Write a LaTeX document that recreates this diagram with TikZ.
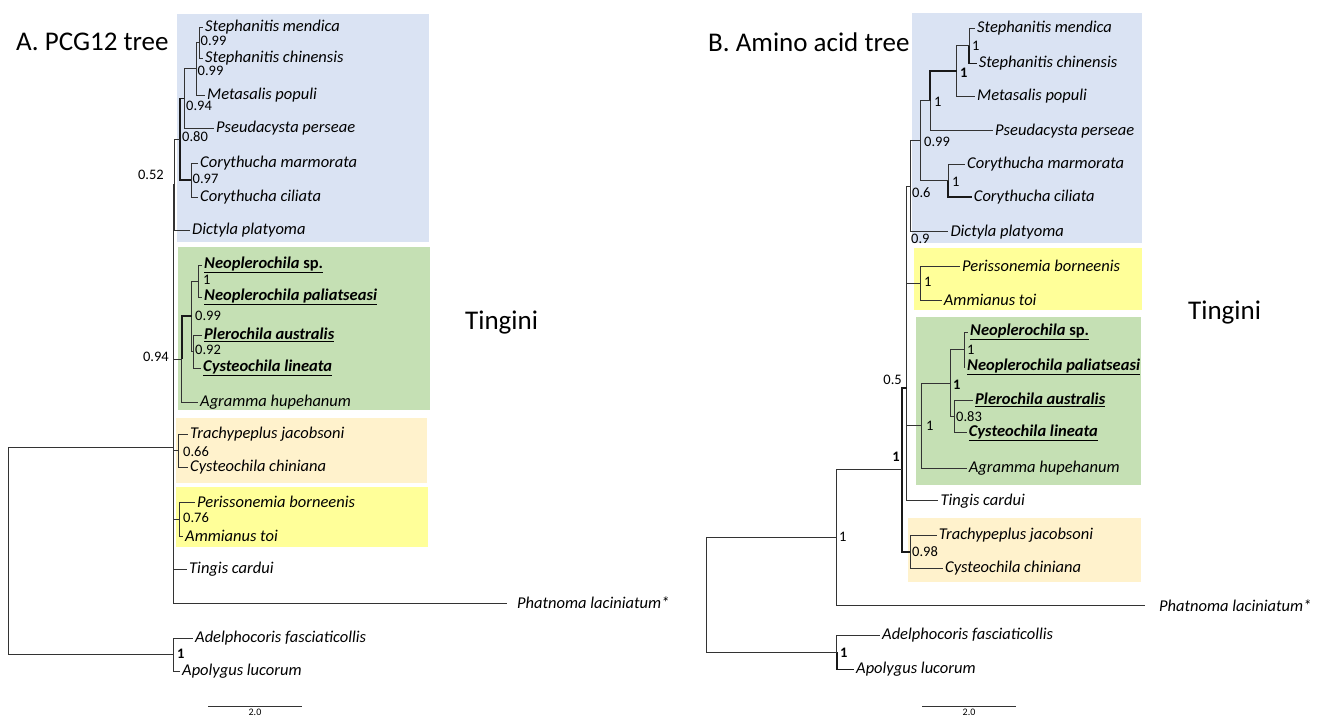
\documentclass[tikz,border=0pt]{standalone}
\usepackage{fontspec}
\setmainfont{Carlito}
\definecolor{cblue}{HTML}{DAE3F3}
\definecolor{cgreen}{HTML}{C5E0B4}
\definecolor{cpeach}{HTML}{FFF2CC}
\definecolor{cyellow}{HTML}{FFFF99}
\begin{document}
\begin{tikzpicture}[x=1pt,y=-1pt,
	br/.style={draw=black!80,line width=0.8pt},
	brb/.style={draw=black!90,line width=1.6pt},
	taxon/.style={anchor=west,inner sep=2pt,font=\fontsize{16.5}{18}\selectfont\itshape},
	taxb/.style={taxon,font=\fontsize{16.5}{18}\selectfont\bfseries\itshape},
	supp/.style={anchor=west,inner sep=1pt,font=\fontsize{14.5}{16}\selectfont},
	suppb/.style={supp,font=\fontsize{14.5}{16}\selectfont\bfseries},
	heading/.style={anchor=west,inner sep=0pt,font=\fontsize{27}{30}\selectfont}]
	\useasboundingbox (0,0) rectangle (1322,718);

	% clade boxes
	\fill[cblue] (177,14) rectangle (429,242);
	\fill[cgreen] (178,247) rectangle (430,410);
	\fill[cpeach] (176,418) rectangle (427,483);
	\fill[cyellow] (176,487) rectangle (428,547);
	\fill[cblue] (912,13) rectangle (1142,243);
	\fill[cyellow] (914,248) rectangle (1142,310);
	\fill[cgreen] (916,317) rectangle (1141,485);
	\fill[cpeach] (908,518) rectangle (1141,582);

	% A. PCG12 tree
	\node(ta) [heading] at (16,42) {A. PCG12 tree};
	\node(sm1) [taxon] at (203,27) {Stephanitis mendica};
	\node(sc1) [taxon] at (203,58) {Stephanitis chinensis};
	\node(mp1) [taxon] at (205,95) {Metasalis populi};
	\node(pp1) [taxon] at (214,128) {Pseudacysta perseae};
	\node(cm1) [taxon] at (198,163) {Corythucha marmorata};
	\node(cc1) [taxon] at (198,197) {Corythucha ciliata};
	\node(dp1) [taxon] at (190,230) {Dictyla platyoma};
	\node(nsp1) [taxb] at (202,265) {\underline{Neoplerochila \upshape sp.}};
	\node(npa1) [taxb] at (202,297) {\underline{Neoplerochila paliatseasi}};
	\node(pa1) [taxb] at (202,335) {\underline{Plerochila australis}};
	\node(cl1) [taxb] at (201,368) {\underline{Cysteochila lineata}};
	\node(ah1) [taxon] at (198,402) {Agramma hupehanum};
	\node(tj1) [taxon] at (188,434) {Trachypeplus jacobsoni};
	\node(cch1) [taxon] at (188,467) {Cysteochila chiniana};
	\node(pb1) [taxon] at (195,502) {Perissonemia borneenis};
	\node(at1) [taxon] at (183,536) {Ammianus toi};
	\node(tc1) [taxon] at (187,569) {Tingis cardui};
	\coordinate(pe1) at (507,603);
	\node(ph1) [taxon] at (515,603) {Phatnoma laciniatum*};
	\node(af1) [taxon] at (193,638) {Adelphocoris fasciaticollis};
	\node(al1) [taxon] at (180,671) {Apolygus lucorum};
	\node(tg1) [heading] at (465,323) {Tingini};

	\coordinate(a1) at (199.3,42.5);
	\coordinate(b1) at (196,68.8);
	\coordinate(c1) at (184,98.4);
	\coordinate(e1) at (191,180);
	\coordinate(d1) at (180,139.2);
	\coordinate(f1) at (174.5,184.6);
	\coordinate(g1) at (198,281);
	\coordinate(h1) at (193,351.5);
	\coordinate(i1) at (191.7,316.2);
	\coordinate(j1) at (181.7,359);
	\coordinate(k1) at (178.3,450.5);
	\coordinate(l1) at (179,519);
	\coordinate(m1) at (173,447);
	\coordinate(o1) at (173.3,654.5);
	\coordinate(r1) at (8.3,550.8);

	\draw[br] (a1) |- (sm1.west) (a1) |- (sc1.west);
	\draw[br] (b1) |- (a1) (b1) |- (mp1.west);
	\draw[br] (c1) |- (b1) (c1) |- (pp1.west);
	\draw[br] (e1) |- (cm1.west) (e1) |- (cc1.west);
	\draw[brb] (d1) |- (c1) (d1) |- (e1);
	\draw[br] (f1) |- (d1) (f1) |- (dp1.west);
	\draw[br] (g1) |- (nsp1.west) (g1) |- (npa1.west);
	\draw[br] (h1) |- (pa1.west) (h1) |- (cl1.west);
	\draw[br] (i1) |- (g1) (i1) |- (h1);
	\draw[brb] (j1) |- (i1);
	\draw[br] (j1) |- (ah1.west);
	\draw[br] (k1) |- (tj1.west) (k1) |- (cch1.west);
	\draw[br] (l1) |- (pb1.west) (l1) |- (at1.west);
	\draw[br] (m1) |- (f1) (m1) |- (j1) (m1) |- (k1) (m1) |- (l1) (m1) |- (tc1.west) (m1) |- (pe1);
	\draw[br] (o1) |- (af1.west) (o1) |- (al1.west);
	\draw[br] (r1) |- (m1) (r1) |- (o1);

	\node(a1l) [supp] at (199.5,40.5) {0.99};
	\node(b1l) [supp] at (196.5,70.5) {0.99};
	\node(c1l) [supp] at (185,106) {0.94};
	\node(d1l) [supp] at (181,137) {0.80};
	\node(e1l) [supp] at (191.5,179) {0.97};
	\node(f1l) [supp,anchor=east] at (165,175) {0.52};
	\node(g1l) [supp] at (202,280) {1};
	\node(i1l) [supp] at (194,316) {0.99};
	\node(h1l) [supp] at (194,349.5) {0.92};
	\node(j1l) [supp,anchor=east] at (170,357) {0.94};
	\node(k1l) [supp] at (182,452) {0.66};
	\node(l1l) [supp] at (182,518) {0.76};
	\node(o1l) [suppb] at (176,654) {1};

	\coordinate(s1a) at (208,706);
	\coordinate(s1b) at (302,706);
	\draw[br] (s1a) -- (s1b);
	\node(s1l) [font=\fontsize{10}{11}\selectfont,inner sep=0pt] at (255,712.5) {2.0};

	% B. Amino acid tree
	\node(tb) [heading] at (708,42) {B. Amino acid tree};
	\node(sm2) [taxon] at (975,28.3) {Stephanitis mendica};
	\node(sc2) [taxon] at (976.7,63.3) {Stephanitis chinensis};
	\node(mp2) [taxon] at (975,96) {Metasalis populi};
	\node(pp2) [taxon] at (993,130.7) {Pseudacysta perseae};
	\node(cm2) [taxon] at (965,164) {Corythucha marmorata};
	\node(cc2) [taxon] at (971.7,197) {Corythucha ciliata};
	\node(dp2) [taxon] at (948.3,231.7) {Dictyla platyoma};
	\node(pb2) [taxon] at (960,266) {Perissonemia borneenis};
	\node(at2) [taxon] at (941.7,300) {Ammianus toi};
	\node(nsp2) [taxb] at (968,332) {\underline{Neoplerochila \upshape sp.}};
	\node(npa2) [taxb] at (965,367) {\underline{Neoplerochila paliatseasi}};
	\node(pa2) [taxb] at (973,400) {\underline{Plerochila australis}};
	\node(cl2) [taxb] at (966.7,432.7) {\underline{Cysteochila lineata}};
	\node(ah2) [taxon] at (966.7,468) {Agramma hupehanum};
	\node(tc2) [taxon] at (938.3,500.7) {Tingis cardui};
	\node(tj2) [taxon] at (936.7,535) {Trachypeplus jacobsoni};
	\node(cch2) [taxon] at (943,568.3) {Cysteochila chiniana};
	\coordinate(pe2) at (1145,605);
	\node(ph2) [taxon] at (1157,606) {Phatnoma laciniatum*};
	\node(af2) [taxon] at (880,635) {Adelphocoris fasciaticollis};
	\node(al2) [taxon] at (854,669.3) {Apolygus lucorum};
	\node(tg2) [heading] at (1188,313) {Tingini};

	\coordinate(a2) at (969,45.8);
	\coordinate(b2) at (956.7,70.9);
	\coordinate(c2) at (930,100.8);
	\coordinate(e2) at (948,180.5);
	\coordinate(d2) at (920,140.7);
	\coordinate(f2) at (910,186.2);
	\coordinate(y2) at (920,283);
	\coordinate(g2) at (906.7,234.6);
	\coordinate(h2) at (964,349.5);
	\coordinate(i2) at (954,416.4);
	\coordinate(j2) at (950,382.9);
	\coordinate(k2) at (921.7,425.5);
	\coordinate(u2) at (906.7,388);
	\coordinate(l2) at (910,551.7);
	\coordinate(t2) at (901.7,469.8);
	\coordinate(m2) at (836.7,537.4);
	\coordinate(o2) at (836.7,652.2);
	\coordinate(r2) at (706,594.8);

	\draw[br] (a2) |- (sm2.west);
	\draw[brb] (a2) |- (sc2.west);
	\draw[br] (b2) |- (a2) (b2) |- (mp2.west);
	\draw[brb] (c2) |- (b2);
	\draw[br] (c2) |- (pp2.west);
	\draw[br] (e2) |- (cm2.west);
	\draw[brb] (e2) |- (cc2.west);
	\draw[br] (d2) |- (c2) (d2) |- (e2);
	\draw[br] (f2) |- (d2) (f2) |- (dp2.west);
	\draw[br] (y2) |- (pb2.west) (y2) |- (at2.west);
	\draw[br] (g2) |- (f2) (g2) |- (y2);
	\draw[br] (h2) |- (nsp2.west) (h2) |- (npa2.west);
	\draw[br] (i2) |- (pa2.west) (i2) |- (cl2.west);
	\draw[br] (j2) |- (h2) (j2) |- (i2);
	\draw[br] (k2) |- (j2) (k2) |- (ah2.west);
	\draw[br] (u2) |- (g2) (u2) |- (k2) (u2) |- (tc2.west);
	\draw[br] (l2) |- (tj2.west) (l2) |- (cch2.west);
	\draw[brb] (t2) |- (u2) (t2) |- (l2);
	\draw[br] (m2) |- (t2) (m2) |- (pe2);
	\draw[br] (o2) |- (af2.west);
	\draw[brb] (o2) |- (al2.west);
	\draw[br] (r2) |- (m2) (r2) |- (o2);

	\node(a2l) [supp] at (971,46) {1};
	\node(b2l) [suppb] at (959,73) {1};
	\node(c2l) [supp] at (933,102) {1};
	\node(d2l) [supp] at (923,142) {0.99};
	\node(e2l) [supp] at (951,182) {1};
	\node(f2l) [supp] at (911,193) {0.6};
	\node(y2l) [supp] at (923,282) {1};
	\node(g2l) [supp] at (910,239) {0.9};
	\node(h2l) [supp] at (966,350) {1};
	\node(i2l) [supp] at (955,417) {0.83};
	\node(j2l) [suppb] at (952,385) {1};
	\node(k2l) [supp] at (925,426) {1};
	\node(u2l) [supp,anchor=east] at (903,380) {0.5};
	\node(t2l) [suppb,anchor=east] at (901,457) {1};
	\node(m2l) [supp] at (838,537) {1};
	\node(l2l) [supp] at (911,552) {0.98};
	\node(o2l) [suppb] at (839,653) {1};

	\coordinate(s2a) at (922,706.7);
	\coordinate(s2b) at (1016,706.7);
	\draw[br] (s2a) -- (s2b);
	\node(s2l) [font=\fontsize{10}{11}\selectfont,inner sep=0pt] at (969,712.5) {2.0};
\end{tikzpicture}
\end{document}
